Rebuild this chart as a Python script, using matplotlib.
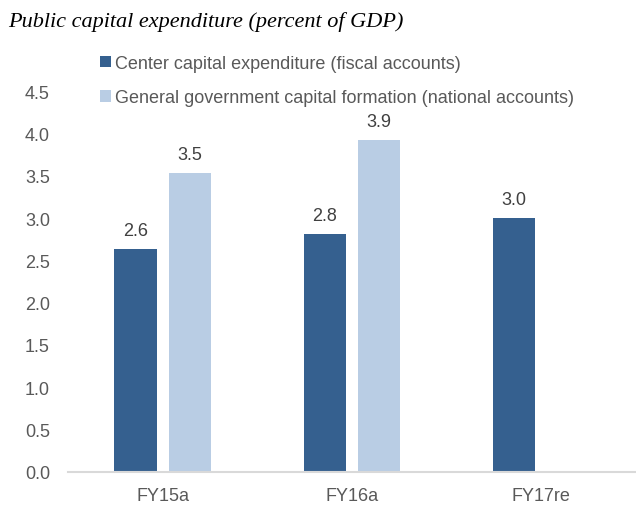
import matplotlib.pyplot as plt
import numpy as np

categories = ['FY15a', 'FY16a', 'FY17re']
center_capex = [2.63, 2.81, 3.0]
gen_gov_capex = [3.53, 3.92, None]
series_names = ['Center capital expenditure (fiscal accounts)',
                'General government capital formation (national accounts)']
colors = ['#35608F', '#B9CDE4']

plt.rcParams['font.family'] = ['Liberation Sans', 'DejaVu Sans']

fig = plt.figure(figsize=(6.36, 5.06), dpi=100)
ax = fig.add_axes([68 / 636, 33 / 506, 1 - 68 / 636, 381 / 506])

x = np.arange(len(categories))
width = 0.224
offset = 0.143

for i, (vals, name, c) in enumerate(zip([center_capex, gen_gov_capex], series_names, colors)):
    xs = [xi + (offset if i else -offset) for xi, v in zip(x, vals) if v is not None]
    ys = [v for v in vals if v is not None]
    bars = ax.bar(xs, ys, width, color=c, label=name)
    for b, v in zip(bars, ys):
        ax.text(b.get_x() + b.get_width() / 2, v + 0.12, '%.1f' % v,
                ha='center', va='bottom', fontsize=13, color='#404040')

ax.set_xlim(-0.5, 2.5)
ax.set_ylim(0, 4.5)
ax.set_yticks(np.arange(0, 4.51, 0.5))
ax.set_yticklabels(['%.1f' % t for t in np.arange(0, 4.51, 0.5)])
ax.set_xticks(x)
ax.set_xticklabels(categories)
ax.tick_params(axis='both', length=0, labelsize=13, labelcolor='#595959')
ax.tick_params(axis='y', pad=13)
ax.tick_params(axis='x', pad=11)
for s in ['top', 'right', 'left']:
    ax.spines[s].set_visible(False)
ax.spines['bottom'].set_color('#D9D9D9')
ax.spines['bottom'].set_linewidth(1.5)

fig.text(8 / 636, 1 - 22 / 506, 'Public capital expenditure (percent of GDP)',
         family='Liberation Serif', style='italic', fontsize=16,
         ha='left', va='center', color='#000000')

fig.legend(loc='upper left', bbox_to_anchor=(91 / 636, 1 - 47 / 506),
           frameon=False, fontsize=13, labelcolor='#595959',
           handlelength=0.6, handleheight=0.6, handletextpad=0.25,
           labelspacing=0.95, borderpad=0)

fig.savefig('out.png', dpi=100)
